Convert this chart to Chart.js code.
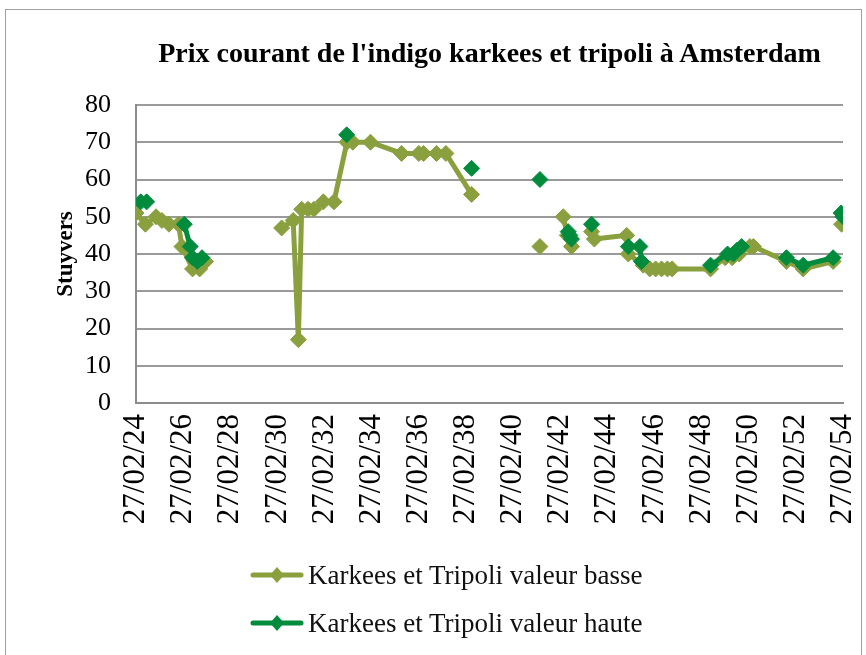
<!DOCTYPE html>
<html>
<head>
<meta charset="utf-8">
<script src="https://cdn.jsdelivr.net/npm/chart.js@4.4.1/dist/chart.umd.min.js"></script>
<style>
  html, body { margin: 0; padding: 0; background: #fff; }
  #wrap { position: relative; width: 866px; height: 655px; overflow: hidden; font-family: "Liberation Serif", "Times New Roman", serif; }
  #frame { position: absolute; left: 5px; top: 9px; width: 855px; height: 700px; border: 1.5px solid #a0a0a0; }
  #title { position: absolute; left: 136px; width: 707px; top: 36px; text-align: center; font-weight: bold; font-size: 28px; line-height: 34px; color: #000; white-space: nowrap; }
  #chart { position: absolute; left: 0; top: 0; }
  #legend { position: absolute; left: 250px; top: 551px; }
  .item { display: flex; align-items: center; height: 48px; font-size: 27px; color: #111; white-space: nowrap; }
  .item svg { margin-right: 4px; }
</style>
</head>
<body>
<div id="wrap">
  <div id="frame"></div>
  <canvas id="chart" width="866" height="655"></canvas>
  <div id="title">Prix courant de l'indigo karkees et tripoli à Amsterdam</div>
  <div id="legend"></div>
</div>
<script>
// dates as decimal years, null value = break in the line
const lowYears = [
  1724.00, 1724.40, 1724.85, 1725.10, 1725.40, 1725.80, 1725.95, 1726.40, 1726.70, 1726.95,
  1728.50,
  1730.18, 1730.67, 1730.89, 1731.03, 1731.30, 1731.55, 1731.95, 1732.40, 1732.95, 1733.20,
  1733.95, 1735.27, 1736.00, 1736.20, 1736.75, 1737.15, 1738.24,
  1740.00,
  1741.14,
  1741.60,
  1742.13, 1742.30, 1742.48,
  1742.90,
  1743.33, 1743.45, 1744.82, 1744.89, 1745.52, 1745.80, 1746.05, 1746.30, 1746.55, 1746.75,
  1748.38, 1749.00, 1749.30, 1749.60, 1750.05, 1750.20, 1751.60, 1752.31, 1753.58,
  1753.80,
  1753.94
];
const lowValues = [
  51, 48, 50, 49, 48, 48, 42, 36, 36, 38,
  null,
  47, 49, 17, 52, 52, 52, 54, 54, 70, 70,
  70, 67, 67, 67, 67, 67, 56,
  null,
  42,
  null,
  50, 45, 42,
  null,
  46, 44, 45, 40, 37, 36, 36, 36, 36, 36,
  36, 39, 39, 40, 42, 42, 38, 36, 38,
  null,
  48
];

const highYears = [
  1724.20, 1724.45,
  1725.00,
  1726.05, 1726.30, 1726.40, 1726.60, 1726.80,
  1729.00,
  1732.94,
  1735.00,
  1738.24,
  1740.00,
  1741.14,
  1741.60,
  1742.34, 1742.41, 1742.48,
  1742.90,
  1743.33,
  1744.00,
  1744.89, 1745.38, 1745.45,
  1747.00,
  1748.38, 1749.10, 1749.35, 1749.50, 1749.70,
  1750.50,
  1751.60, 1752.31, 1753.58,
  1753.80,
  1753.92, 1754.00
];
const highValues = [
  54, 54,
  null,
  48, 42, 39, 38, 39,
  null,
  72,
  null,
  63,
  null,
  60,
  null,
  46, 45, 44,
  null,
  48,
  null,
  42, 42, 38,
  null,
  37, 40, 40, 41, 42,
  null,
  39, 37, 39,
  null,
  51, 50
];

const seriesNames = ['Karkees et Tripoli valeur basse', 'Karkees et Tripoli valeur haute'];
const seriesColors = ['#8AA03E', '#008C3C'];
const yTicks = [0, 10, 20, 30, 40, 50, 60, 70, 80];
const xStart = 1724, xEnd = 1754, xStep = 2;

function points(xs, ys) {
  return xs.map((x, i) => ({ x: x, y: ys[i] }));
}

function makeSet(label, data, color, order) {
  return {
    label: label,
    data: data,
    borderColor: color,
    backgroundColor: color,
    borderWidth: 5,
    pointStyle: 'rectRot',
    pointRadius: 8,
    pointBorderWidth: 1,
    pointHoverRadius: 8,
    spanGaps: false,
    tension: 0,
    order: order
  };
}

const fontFamily = '"Liberation Serif", "Times New Roman", serif';

new Chart(document.getElementById('chart'), {
  type: 'line',
  data: {
    datasets: [
      makeSet(seriesNames[0], points(lowYears, lowValues), seriesColors[0], 1),
      makeSet(seriesNames[1], points(highYears, highValues), seriesColors[1], 0)
    ]
  },
  options: {
    responsive: false,
    animation: false,
    layout: { padding: { left: 50, top: 105, right: 23, bottom: 0 } },
    plugins: {
      legend: { display: false },
      title: { display: false },
      tooltip: { enabled: false }
    },
    scales: {
      x: {
        type: 'linear',
        min: xStart,
        max: xEnd,
        afterBuildTicks: (scale) => {
          const t = [];
          for (let v = xStart; v <= xEnd; v += xStep) t.push({ value: v });
          scale.ticks = t;
        },
        afterFit: (scale) => {
          scale.height = 252;
          scale.paddingLeft = 0;
          scale.paddingRight = 0;
        },
        grid: { color: 'transparent', drawTicks: false },
        border: { display: true, color: '#8c8c8c', width: 2 },
        ticks: {
          minRotation: 90,
          maxRotation: 90,
          padding: 11,
          color: '#000',
          font: { family: fontFamily, size: 31 },
          callback: (v) => '27/02/' + String(v).slice(2)
        }
      },
      y: {
        min: 0,
        max: 80,
        afterBuildTicks: (scale) => { scale.ticks = yTicks.map(v => ({ value: v })); },
        afterFit: (scale) => { scale.width = 86; },
        grid: { color: '#9a9a9a', lineWidth: 2, drawTicks: false },
        border: { display: true, color: '#8c8c8c', width: 2 },
        ticks: {
          padding: 25,
          color: '#000',
          font: { family: fontFamily, size: 26 }
        },
        title: {
          display: true,
          text: 'Stuyvers',
          color: '#000',
          padding: { top: 2, bottom: 0 },
          font: { family: fontFamily, size: 23, weight: 'bold' }
        }
      }
    }
  }
});

// legend under the chart, one row per series
const legend = document.getElementById('legend');
seriesNames.forEach((name, i) => {
  const c = seriesColors[i];
  const row = document.createElement('div');
  row.className = 'item';
  row.innerHTML =
    '<svg width="54" height="18" viewBox="0 0 54 18">' +
    '<line x1="3" y1="9" x2="51" y2="9" stroke="' + c + '" stroke-width="5" stroke-linecap="round"/>' +
    '<path d="M27 1 L34 9 L27 17 L20 9 Z" fill="' + c + '"/></svg>' +
    '<span>' + name + '</span>';
  legend.appendChild(row);
});
</script>
</body>
</html>
